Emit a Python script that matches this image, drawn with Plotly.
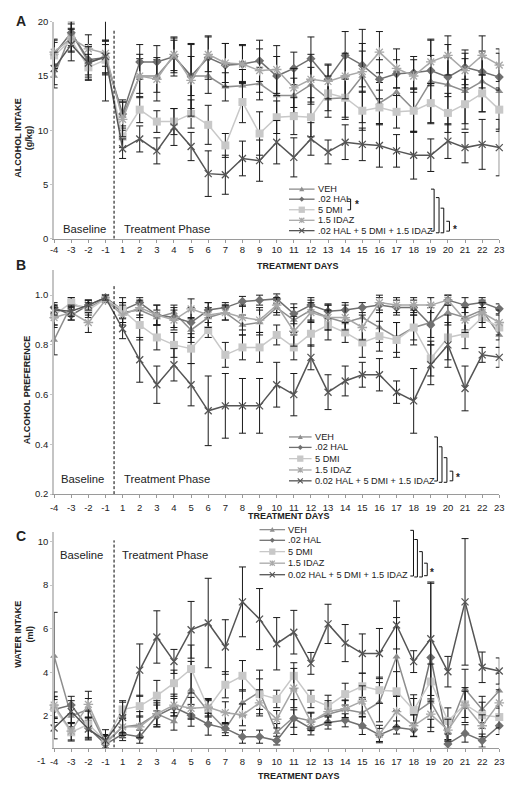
import plotly.graph_objects as go

W, H = 520, 794

# ---------------- data ----------------
DAYS = ["-4", "-3", "-2", "-1"] + [str(d) for d in range(1, 24)]

NAMES_A = ["VEH", ".02 HAL", "5 DMI", "1.5 IDAZ", ".02 HAL + 5 DMI + 1.5 IDAZ"]
NAMES_BC = ["VEH", ".02 HAL", "5 DMI", "1.5 IDAZ", "0.02 HAL + 5 DMI + 1.5 IDAZ"]

# Panel A: alcohol intake (g/kg)
VEH_A = [15.0, 19.0, 16.3, 16.7, 11.3, 15.0, 15.0, 16.8, 15.0, 15.0, 14.0, 14.1, 14.3, 13.2, 13.2, 14.2, 12.9, 13.0, 15.0, 12.5, 13.5, 11.9, 14.5, 14.2, 13.6, 14.5, 13.6]
HAL_A = [17.0, 19.0, 16.5, 16.7, 11.5, 16.3, 16.3, 16.8, 15.0, 16.7, 16.0, 16.1, 16.4, 15.0, 15.7, 16.6, 14.7, 16.9, 16.0, 14.7, 15.2, 15.3, 15.5, 14.9, 15.8, 15.4, 14.9]
DMI_A = [16.9, 18.3, 15.8, 16.5, 9.4, 11.9, 10.8, 10.8, 11.5, 10.5, 8.6, 12.6, 9.7, 11.2, 11.3, 11.2, 13.4, 13.0, 11.8, 12.1, 11.7, 11.8, 12.5, 11.6, 12.4, 13.4, 11.9]
IDAZ_A = [17.2, 18.5, 17.5, 17.1, 11.0, 15.0, 14.7, 17.0, 14.6, 17.0, 16.2, 16.1, 15.5, 15.6, 13.9, 14.7, 14.5, 15.0, 15.4, 17.2, 15.7, 15.0, 16.3, 16.9, 15.5, 16.9, 16.0]
COMBO_A = [15.7, 17.9, 16.2, 16.8, 8.3, 9.2, 8.1, 10.3, 8.5, 6.0, 5.9, 7.4, 7.2, 8.9, 7.5, 9.2, 8.0, 8.9, 8.7, 8.6, 8.1, 7.7, 7.7, 9.0, 8.4, 8.7, 8.4]

VEH_A_ERR = [1.1, 1.2, 1.4, 4.0, 1.3, 1.6, 1.5, 1.5, 1.8, 1.6, 1.3, 1.5, 1.5, 1.9, 1.6, 1.6, 1.7, 1.8, 4.3, 1.9, 1.9, 2.0, 3.9, 3.7, 3.0, 2.8, 3.5]
HAL_A_ERR = [1.3, 1.0, 1.4, 1.5, 1.3, 1.6, 1.5, 1.8, 3.0, 2.0, 2.0, 1.8, 1.9, 1.8, 1.5, 2.0, 1.3, 2.2, 2.0, 1.8, 1.3, 1.5, 1.4, 1.8, 1.6, 1.5, 1.2]
DMI_A_ERR = [1.2, 1.0, 1.2, 1.4, 1.0, 1.2, 1.0, 1.2, 1.3, 1.8, 1.1, 1.9, 2.0, 1.5, 1.7, 1.8, 1.6, 2.0, 1.8, 1.6, 1.5, 2.0, 1.8, 1.8, 2.3, 1.7, 2.0]
IDAZ_A_ERR = [1.2, 1.3, 1.3, 1.2, 1.6, 2.0, 2.0, 1.5, 3.3, 1.6, 1.8, 1.7, 2.0, 2.2, 1.8, 2.3, 1.6, 2.1, 1.9, 1.9, 1.8, 1.5, 2.0, 1.8, 1.6, 1.8, 1.5]
COMBO_A_ERR = [1.5, 1.5, 1.5, 1.5, 0.9, 1.2, 1.2, 1.7, 1.3, 2.1, 1.8, 1.6, 1.9, 2.0, 1.8, 1.5, 1.1, 1.6, 1.5, 2.0, 1.5, 2.2, 1.5, 1.6, 1.4, 2.3, 2.6]

# Panel B: alcohol preference
VEH_B = [0.82, 0.96, 0.95, 0.985, 0.93, 0.94, 0.91, 0.93, 0.86, 0.91, 0.93, 0.88, 0.89, 0.95, 0.90, 0.94, 0.91, 0.89, 0.91, 0.87, 0.83, 0.87, 0.89, 0.93, 0.91, 0.94, 0.84]
HAL_B = [0.95, 0.92, 0.96, 0.99, 0.94, 0.97, 0.92, 0.91, 0.89, 0.94, 0.95, 0.975, 0.98, 0.985, 0.925, 0.96, 0.935, 0.94, 0.95, 0.96, 0.95, 0.95, 0.88, 0.98, 0.96, 0.97, 0.945]
DMI_B = [0.92, 0.97, 0.94, 0.985, 0.94, 0.88, 0.83, 0.80, 0.785, 0.86, 0.76, 0.79, 0.79, 0.84, 0.79, 0.845, 0.88, 0.85, 0.81, 0.835, 0.82, 0.87, 0.745, 0.83, 0.845, 0.91, 0.87]
IDAZ_B = [0.91, 0.93, 0.89, 0.98, 0.92, 0.95, 0.92, 0.90, 0.945, 0.92, 0.93, 0.91, 0.90, 0.96, 0.855, 0.93, 0.91, 0.91, 0.87, 0.97, 0.96, 0.96, 0.96, 0.98, 0.90, 0.93, 0.89]
COMBO_B = [0.94, 0.935, 0.96, 0.99, 0.865, 0.74, 0.64, 0.72, 0.64, 0.535, 0.555, 0.555, 0.555, 0.64, 0.60, 0.75, 0.61, 0.655, 0.68, 0.68, 0.61, 0.575, 0.72, 0.80, 0.625, 0.76, 0.75]

VEH_B_ERR = [0.06, 0.03, 0.03, 0.01, 0.04, 0.03, 0.03, 0.03, 0.05, 0.04, 0.03, 0.04, 0.05, 0.03, 0.05, 0.04, 0.05, 0.05, 0.04, 0.06, 0.06, 0.05, 0.06, 0.05, 0.05, 0.04, 0.05]
HAL_B_ERR = [0.02, 0.02, 0.02, 0.01, 0.03, 0.02, 0.04, 0.04, 0.06, 0.03, 0.02, 0.02, 0.02, 0.02, 0.04, 0.03, 0.03, 0.03, 0.02, 0.03, 0.03, 0.03, 0.08, 0.02, 0.03, 0.02, 0.02]
DMI_B_ERR = [0.04, 0.02, 0.03, 0.01, 0.05, 0.06, 0.05, 0.05, 0.06, 0.03, 0.05, 0.05, 0.06, 0.04, 0.05, 0.05, 0.06, 0.04, 0.06, 0.06, 0.07, 0.07, 0.07, 0.09, 0.06, 0.04, 0.05]
IDAZ_B_ERR = [0.04, 0.03, 0.04, 0.01, 0.04, 0.03, 0.04, 0.04, 0.04, 0.05, 0.03, 0.05, 0.05, 0.03, 0.06, 0.04, 0.05, 0.05, 0.05, 0.03, 0.03, 0.03, 0.03, 0.02, 0.05, 0.04, 0.05]
COMBO_B_ERR = [0.02, 0.02, 0.02, 0.01, 0.04, 0.09, 0.075, 0.065, 0.085, 0.14, 0.13, 0.11, 0.11, 0.09, 0.085, 0.05, 0.07, 0.06, 0.05, 0.065, 0.045, 0.13, 0.08, 0.09, 0.09, 0.03, 0.04]

# Panel C: water intake (ml)
VEH_C = [4.75, 2.0, 2.3, 0.75, 1.5, 1.6, 2.1, 1.75, 3.2, 2.2, 1.4, 2.6, 3.1, 1.25, 1.95, 1.77, 2.08, 2.3, 2.15, 2.63, 4.71, 2.1, 2.65, 1.25, 3.24, 2.3, 3.16]
HAL_C = [2.3, 2.5, 1.45, 0.7, 1.17, 1.05, 2.0, 2.4, 2.03, 1.62, 1.43, 1.05, 1.05, 0.87, 1.88, 1.43, 1.7, 1.8, 1.55, 1.13, 1.47, 1.37, 4.68, 0.72, 1.2, 0.87, 1.55]
DMI_C = [2.38, 1.25, 1.62, 0.85, 2.3, 2.45, 2.93, 3.5, 4.15, 2.35, 3.43, 3.84, 3.0, 2.78, 3.84, 2.78, 2.45, 3.0, 3.36, 3.18, 3.13, 2.27, 3.58, 1.77, 2.53, 2.03, 1.95]
IDAZ_C = [2.5, 1.3, 2.53, 0.8, 1.5, 1.5, 2.1, 2.5, 2.35, 2.4, 2.15, 2.05, 2.6, 1.85, 3.28, 1.73, 2.2, 2.33, 2.68, 1.17, 2.2, 1.55, 2.08, 1.35, 2.5, 1.55, 2.6]
COMBO_C = [1.45, 2.2, 1.4, 0.87, 1.93, 4.1, 5.62, 4.5, 5.95, 6.26, 5.16, 7.23, 6.44, 5.31, 5.84, 4.41, 6.22, 5.34, 4.86, 4.86, 6.17, 4.49, 5.54, 4.03, 7.23, 4.23, 4.06]

VEH_C_ERR = [2.0, 0.5, 0.5, 0.3, 0.5, 0.6, 0.6, 0.4, 1.3, 0.5, 0.3, 0.6, 1.0, 0.4, 0.8, 0.4, 0.5, 0.4, 0.7, 0.9, 1.8, 0.7, 0.8, 0.4, 0.9, 0.6, 0.8]
HAL_C_ERR = [0.6, 0.4, 0.5, 0.3, 0.3, 0.3, 0.5, 0.4, 0.5, 0.5, 0.2, 0.3, 0.3, 0.2, 0.4, 0.3, 0.3, 0.3, 0.4, 0.3, 0.3, 0.3, 3.4, 0.2, 0.4, 0.3, 0.4]
DMI_C_ERR = [0.5, 0.4, 0.6, 0.3, 0.4, 0.5, 0.7, 0.6, 1.1, 0.4, 0.6, 0.7, 0.7, 0.4, 0.6, 0.4, 0.5, 0.5, 0.6, 0.6, 0.9, 0.7, 0.8, 0.6, 0.6, 0.6, 0.5]
IDAZ_C_ERR = [0.6, 0.4, 0.6, 0.3, 0.4, 0.5, 0.5, 0.5, 0.5, 0.4, 0.5, 0.5, 0.6, 0.4, 0.9, 0.4, 0.5, 0.4, 0.7, 0.4, 0.7, 0.5, 0.6, 0.5, 0.8, 0.5, 0.6]
COMBO_C_ERR = [0.5, 0.5, 0.5, 0.5, 0.7, 1.2, 1.2, 0.55, 1.3, 2.05, 1.25, 1.6, 1.4, 1.2, 1.0, 0.5, 0.9, 0.85, 0.9, 1.15, 1.1, 0.5, 2.6, 0.7, 2.9, 0.7, 0.6]

Y_TICKS_A = [0, 5, 10, 15, 20]
Y_TICKS_B = [0.2, 0.4, 0.6, 0.8, 1.0]
Y_TICKS_C = [2, 4, 6, 8, 10]

# ---------------- style ----------------
FONT = "Liberation Sans, Arial, sans-serif"
COLORS = ["#8e8e8e", "#707070", "#c8c8c8", "#a8a8a8", "#555555"]
SYMBOLS = ["triangle-up", "diamond", "square", "asterisk-open", "x-thin-open"]
MSIZES = [7, 7, 8, 8, 7]
KINDS = ["tri", "dia", "sq", "ast", "x"]
ERR_COLOR = "#1a1a1a"


def PX(x):
    return x / W


def PY(y):
    return 1 - y / H


panels = [
    dict(vals=[VEH_A, HAL_A, DMI_A, IDAZ_A, COMBO_A],
         errs=[VEH_A_ERR, HAL_A_ERR, DMI_A_ERR, IDAZ_A_ERR, COMBO_A_ERR],
         names=NAMES_A, yr=[0, 20], ydom=[PY(236), PY(16)], ticks=Y_TICKS_A, fmt="d",
         dash_top=19.3, standoff=-1),
    dict(vals=[VEH_B, HAL_B, DMI_B, IDAZ_B, COMBO_B],
         errs=[VEH_B_ERR, HAL_B_ERR, DMI_B_ERR, IDAZ_B_ERR, COMBO_B_ERR],
         names=NAMES_BC, yr=[0.2, 1.1], ydom=[PY(495), PY(268)], ticks=Y_TICKS_B, fmt=".1f",
         dash_top=1.04, standoff=1),
    dict(vals=[VEH_C, HAL_C, DMI_C, IDAZ_C, COMBO_C],
         errs=[VEH_C_ERR, HAL_C_ERR, DMI_C_ERR, IDAZ_C_ERR, COMBO_C_ERR],
         names=NAMES_BC, yr=[0.55, 10.45], ydom=[PY(752), PY(533)], ticks=Y_TICKS_C, fmt="d",
         dash_top=10.05, standoff=2),
]

fig = go.Figure()
layout = dict(
    width=W, height=H, margin=dict(l=0, r=0, t=0, b=0),
    paper_bgcolor="white", plot_bgcolor="white", showlegend=False,
    font=dict(family=FONT, size=10, color="#222222"),
)
shapes = []
annotations = []

for k, p in enumerate(panels):
    sfx = "" if k == 0 else str(k + 1)
    for s in range(5):
        marker = dict(symbol=SYMBOLS[s], size=MSIZES[s], color=COLORS[s],
                      line=dict(width=1.3 if s >= 3 else 0, color=COLORS[s]))
        fig.add_trace(go.Scatter(
            x=DAYS, y=p["vals"][s], name=p["names"][s], mode="lines+markers",
            line=dict(color=COLORS[s], width=1.5), marker=marker,
            error_y=dict(type="data", array=p["errs"][s], visible=True,
                         color=ERR_COLOR, thickness=1, width=3.5),
            xaxis="x" + sfx, yaxis="y" + sfx, cliponaxis=False,
        ))
    layout["xaxis" + sfx] = dict(
        type="category", domain=[PX(51), PX(504)], range=[0, 26], anchor="y" + sfx,
        showline=True, linecolor="#9a9a9a", linewidth=1, ticks="outside", ticklen=3,
        tickcolor="#9a9a9a", showgrid=False, zeroline=False, ticklabelstandoff=p["standoff"],
        tickfont=dict(size=9.5, color="#222222"), tickangle=0,
    )
    layout["yaxis" + sfx] = dict(
        domain=p["ydom"], range=p["yr"], anchor="x" + sfx, tickvals=p["ticks"],
        tickformat=p["fmt"], showline=True, linecolor="#c4c4c4", linewidth=2,
        ticks="outside", ticklen=2, tickcolor="#c4c4c4", showgrid=False, zeroline=False,
        tickfont=dict(size=9.5, color="#222222"),
    )
    # baseline / treatment separator
    shapes.append(dict(type="line", xref="x" + sfx, yref="y" + sfx, x0=3.5, x1=3.5,
                       y0=p["yr"][0], y1=p["dash_top"],
                       line=dict(color="black", width=1, dash="3px,2px")))

# ---------------- text ----------------
def ann(text, x, y, size=9.5, bold=False, xanchor="center", yanchor="middle", angle=0):
    annotations.append(dict(
        text=f"<b>{text}</b>" if bold else text, x=PX(x), y=PY(y), xref="paper", yref="paper",
        showarrow=False, xanchor=xanchor, yanchor=yanchor, textangle=angle,
        font=dict(size=size, family=FONT, color="#222222"),
    ))

ann("A", 17, 15, size=14, bold=True)
ann("B", 17.5, 263, size=14, bold=True)
ann("C", 17, 537, size=14, bold=True)

ann("ALCOHOL INTAKE<br>(g/kg)", 20, 134, size=9, bold=True, angle=-90)
ann("ALCOHOL PREFERENCE", 23, 390, size=9, bold=True, angle=-90)
ann("WATER INTAKE<br>(ml)", 21, 637, size=9, bold=True, angle=-90)

ann("TREATMENT DAYS", 299, 264, size=9, bold=True)
ann("TREATMENT DAYS", 290, 517, size=9, bold=True)
ann("TREATMENT DAYS", 300, 781, size=9, bold=True)

ann("Baseline", 81.5, 226.5, size=11.3)
ann("Treatment Phase", 120, 226.5, size=11.3, xanchor="left")
ann("Baseline", 80, 480, size=11.3)
ann("Treatment Phase", 120, 480, size=11.3, xanchor="left")
ann("Baseline", 78.5, 557, size=11.3)
ann("Treatment Phase", 118, 557, size=11.3, xanchor="left")

ann("-1", 38, 765, size=9.5)

# ---------------- legends (drawn manually) ----------------
def pts_path(pts, close=True):
    d = "M " + " L ".join(f"{PX(a):.5f},{PY(b):.5f}" for a, b in pts)
    return d + (" Z" if close else "")


def marker_shape(kind, cx, cy, color, r=2.6):
    if kind == "tri":
        return dict(type="path", path=pts_path([(cx, cy - r), (cx + r, cy + r * 0.8), (cx - r, cy + r * 0.8)]),
                    xref="paper", yref="paper", fillcolor=color, line=dict(width=0))
    if kind == "dia":
        return dict(type="path", path=pts_path([(cx, cy - r), (cx + r, cy), (cx, cy + r), (cx - r, cy)]),
                    xref="paper", yref="paper", fillcolor=color, line=dict(width=0))
    if kind == "sq":
        r = r + 0.6
        return dict(type="path", path=pts_path([(cx - r, cy - r), (cx + r, cy - r), (cx + r, cy + r), (cx - r, cy + r)]),
                    xref="paper", yref="paper", fillcolor=color, line=dict(width=0))
    if kind == "ast":
        d = (pts_path([(cx - r, cy - r), (cx + r, cy + r)], False) + " " +
             pts_path([(cx - r, cy + r), (cx + r, cy - r)], False) + " " +
             pts_path([(cx, cy - r), (cx, cy + r)], False))
        return dict(type="path", path=d, xref="paper", yref="paper", line=dict(color=color, width=1.2))
    d = (pts_path([(cx - r, cy - r), (cx + r, cy + r)], False) + " " +
         pts_path([(cx - r, cy + r), (cx + r, cy - r)], False))
    return dict(type="path", path=d, xref="paper", yref="paper", line=dict(color=color, width=1.1))


LEGENDS = [
    dict(names=NAMES_A, rows=[185.7, 195.9, 206.6, 217.3, 227.8], x0=290, x1=316, tx=317.5),
    dict(names=NAMES_BC, rows=[437.0, 447.6, 459.0, 470.5, 481.5], x0=290, x1=313, tx=314.5),
    dict(names=NAMES_BC, rows=[531.0, 541.8, 553.3, 565.0, 576.7], x0=260, x1=286, tx=287),
]
for lg in LEGENDS:
    for s in range(5):
        y = lg["rows"][s]
        shapes.append(dict(type="line", xref="paper", yref="paper", x0=PX(lg["x0"]), x1=PX(lg["x1"]),
                           y0=PY(y), y1=PY(y), line=dict(color=COLORS[s], width=1.3)))
        shapes.append(marker_shape(KINDS[s], (lg["x0"] + lg["x1"]) / 2, y, COLORS[s]))
        ann(lg["names"][s], lg["tx"], y, size=9.2, xanchor="left")


def bracket(x, ytop, ybot, stub=3.2):
    shapes.append(dict(type="path", xref="paper", yref="paper",
                       path=pts_path([(x - stub, ytop), (x, ytop), (x, ybot), (x - stub, ybot)], False),
                       line=dict(color="#111111", width=1)))


# Panel A brackets
bracket(352.7, 195.7, 206.7)
ann("*", 359, 201, size=10, bold=True)
bracket(437.7, 185.7, 228.3)
bracket(442.7, 194.3, 230.0)
bracket(447.5, 205.0, 230.0)
bracket(453.3, 218.3, 228.3)
ann("*", 458.5, 226.5, size=10, bold=True)

# Panel B brackets
bracket(441.0, 437.0, 481.7)
bracket(445.7, 447.0, 483.0)
bracket(450.7, 458.0, 483.0)
bracket(456.7, 471.7, 481.5)
ann("*", 462, 478, size=10, bold=True)

# Panel C brackets
bracket(416.7, 531.7, 578.0)
bracket(420.7, 541.0, 579.0)
bracket(425.7, 553.3, 579.0)
bracket(430.7, 565.0, 577.7)
ann("*", 436, 574, size=10, bold=True)

layout["shapes"] = shapes
layout["annotations"] = annotations
fig.update_layout(**layout)
fig.write_html(
    "out.html",
    config={"displayModeBar": False},
    post_script="document.body.style.margin='0';document.body.style.padding='0';"
                "document.body.style.overflow='hidden';",
)
